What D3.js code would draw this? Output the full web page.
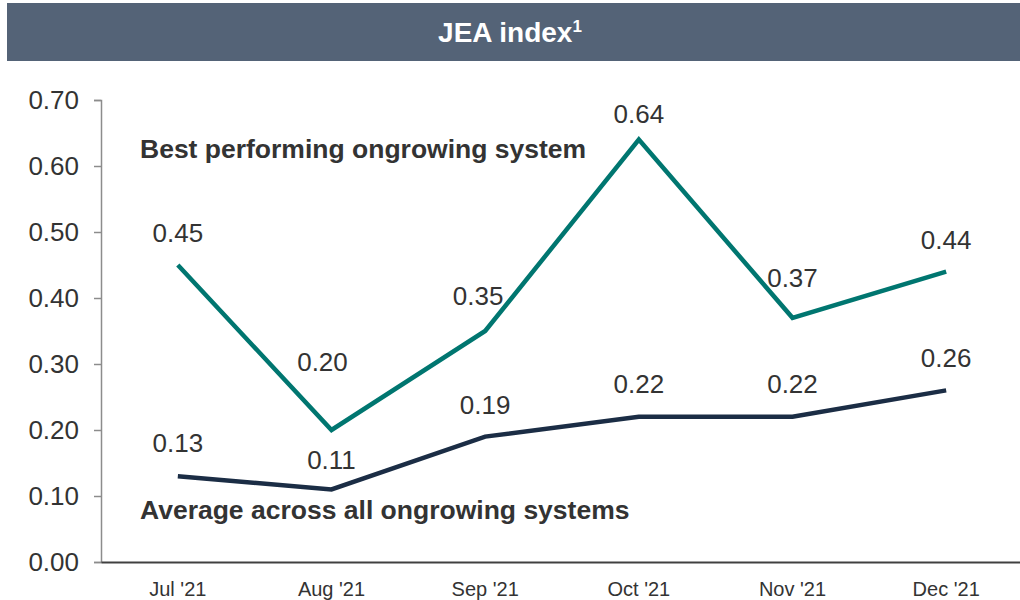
<html>
<head>
<meta charset="utf-8">
<title>JEA index</title>
<script src="https://cdn.jsdelivr.net/npm/d3@7"></script>
<style>
  body { margin: 0; background: #fff; font-family: Arial, 'Liberation Sans', sans-serif; }
</style>
</head>
<body>
<div id="chart"></div>
<script>
  // data
  const months = ["Jul '21", "Aug '21", "Sep '21", "Oct '21", "Nov '21", "Dec '21"]
  const bestSystem = [0.45, 0.20, 0.35, 0.64, 0.37, 0.44]
  const avgSystems = [0.13, 0.11, 0.19, 0.22, 0.22, 0.26]
  const yTicks = [0, 0.1, 0.2, 0.3, 0.4, 0.5, 0.6, 0.7]

  // label nudges (layout only): [dx, dy] from the point
  const bestNudge = [[0, -23], [-9, -59], [-7, -26], [0, -17], [0, -31], [0, -23]]
  const avgNudge = [[0, -24], [0, -20], [0, -23], [0, -24], [0, -24], [0, -23]]

  const W = 1020, H = 600
  const svg = d3.select("#chart").append("svg")
    .attr("width", W).attr("height", H)

  // title bar
  svg.append("rect").attr("x", 7).attr("y", 3).attr("width", W - 7).attr("height", 58)
    .attr("fill", "#546377")
  const title = svg.append("text").attr("x", 510).attr("y", 42)
    .attr("text-anchor", "middle").attr("fill", "#fff")
    .attr("font-size", 28).attr("font-weight", "bold")
  title.append("tspan").text("JEA index")
  title.append("tspan").text("1").attr("font-size", 17).attr("dy", -10)

  const x = d3.scaleBand().domain(months).range([101, 1023])
  const y = d3.scaleLinear().domain([0, 0.7]).range([562, 100])
  const cx = d => x(d) + x.bandwidth() / 2

  // y axis
  const yAxis = svg.append("g").attr("transform", "translate(101,0)")
    .call(d3.axisLeft(y).tickValues(yTicks).tickFormat(d3.format(".2f")).tickSize(7).tickPadding(15))
  yAxis.select(".domain").attr("stroke", "#8c8c8c").attr("stroke-width", 1.5)
  yAxis.selectAll(".tick line").attr("stroke", "#8c8c8c").attr("stroke-width", 1.5)
  yAxis.selectAll("text").attr("font-size", 26).attr("fill", "#333")
    .attr("font-family", "Arial, 'Liberation Sans', sans-serif")

  // x axis
  const xAxis = svg.append("g").attr("transform", "translate(0,562)")
    .call(d3.axisBottom(x).tickSize(0).tickPadding(20))
  xAxis.select(".domain").attr("stroke", "#404040").attr("stroke-width", 2)
  xAxis.selectAll("text").attr("font-size", 20).attr("fill", "#333")
    .attr("font-family", "Arial, 'Liberation Sans', sans-serif")

  const line = d3.line().x((d, i) => cx(months[i])).y(d => y(d))

  function drawSeries(vals, color, nudge) {
    svg.append("path").datum(vals).attr("d", line)
      .attr("fill", "none").attr("stroke", color).attr("stroke-width", 4.5)
      .attr("stroke-linejoin", "miter")
    svg.append("g").selectAll("text").data(vals).join("text")
      .attr("x", (d, i) => cx(months[i]) + nudge[i][0])
      .attr("y", (d, i) => y(d) + nudge[i][1])
      .attr("text-anchor", "middle")
      .attr("font-size", 26).attr("fill", "#333")
      .text(d => d.toFixed(2))
  }
  drawSeries(bestSystem, "#007670", bestNudge)
  drawSeries(avgSystems, "#1b2d45", avgNudge)

  // series labels
  svg.append("text").attr("x", 140).attr("y", 158)
    .attr("font-size", 26.5).attr("font-weight", "bold").attr("fill", "#333")
    .text("Best performing ongrowing system")
  svg.append("text").attr("x", 140).attr("y", 519)
    .attr("font-size", 26.5).attr("font-weight", "bold").attr("fill", "#333")
    .text("Average across all ongrowing systems")
</script>
</body>
</html>
